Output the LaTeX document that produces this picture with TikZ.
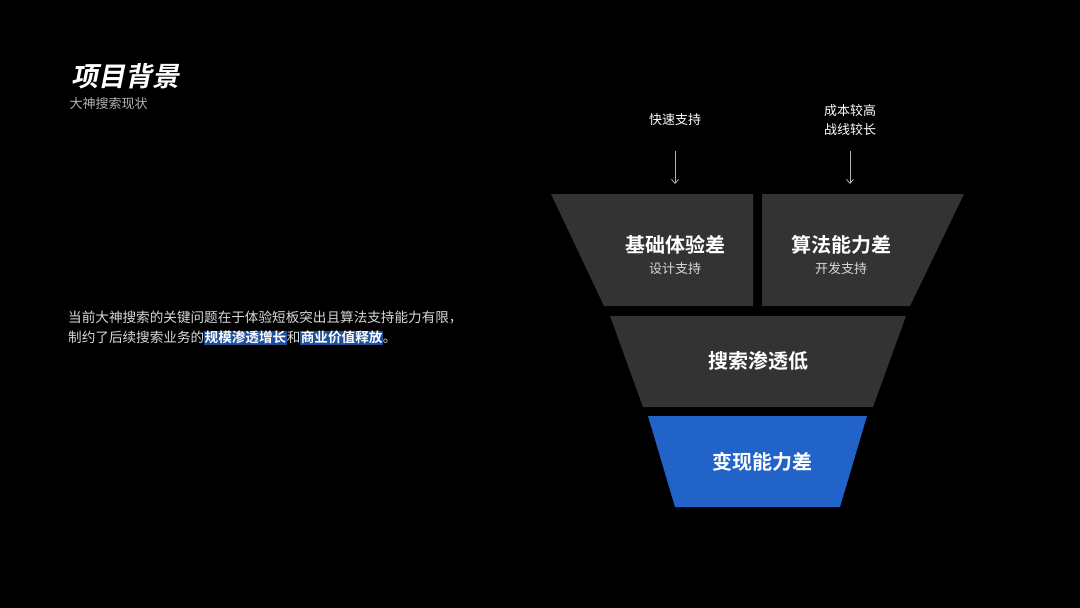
\documentclass[tikz,border=0pt]{standalone}
\usepackage{fontspec}
\setmainfont{Noto Sans CJK SC}[BoldFont={Noto Sans CJK SC Bold}]
\newfontfamily\titlefont{Noto Sans CJK SC Bold}[FakeSlant=0.2]
\usepackage{tikz}
\usetikzlibrary{arrows.meta}
\definecolor{band}{HTML}{333333}
\definecolor{blueband}{HTML}{2163C9}
\definecolor{hl}{HTML}{1F4E9A}
\newcommand{\hlword}[1]{{\setlength{\fboxsep}{0.5pt}\colorbox{hl}{\textcolor{white}{\bfseries #1}}}}
\tikzset{
  bandfill/.style={fill=band, draw=none},
  bigtxt/.style={text=white, font=\bfseries\fontsize{20}{23}\selectfont},
  smalltxt/.style={text=white!85!black, font=\fontsize{13}{15}\selectfont},
  note/.style={text=white, font=\fontsize{13}{19}\selectfont, align=center},
  arrow/.style={draw=white!70!black, line width=0.8pt, -{Straight Barb[length=4pt,width=7pt]}}
}
\begin{document}
\begin{tikzpicture}[x=1pt,y=-1pt]
  \fill[black] (0,0) rectangle (1080,608);
  \useasboundingbox (0,0) rectangle (1080,608);

  % title
  \node (title) [anchor=west, text=white, font=\titlefont\fontsize{27}{30}\selectfont] at (68,76) {项目背景};
  \node (subtitle) [anchor=west, text=white!70!black, font=\fontsize{13}{15}\selectfont] at (66,104) {大神搜索现状};

  % paragraph
  \node (para) [anchor=north west, text=white!85!black, font=\fontsize{13.6}{20}\selectfont, align=left, inner sep=0pt] at (68,311)
    {当前大神搜索的关键问题在于体验短板突出且算法支持能力有限，\\
     制约了后续搜索业务的\hlword{规模渗透增长}和\hlword{商业价值释放}。};

  % funnel
  \fill[bandfill] (551,194) -- (753,194) -- (753,306) -- (604,306) -- cycle;
  \fill[bandfill] (762,194) -- (964,194) -- (910,306) -- (762,306) -- cycle;
  \fill[bandfill] (610,316) -- (906,316) -- (873,407) -- (643,407) -- cycle;
  \fill[blueband] (648,416) -- (867,416) -- (840,507) -- (675,507) -- cycle;

  \node (basic) [bigtxt] at (675,245) {基础体验差};
  \node (basicsub) [smalltxt] at (675,269) {设计支持};
  \node (algo) [bigtxt] at (841,245) {算法能力差};
  \node (algosub) [smalltxt] at (841,269) {开发支持};
  \node (reach) [bigtxt] at (758,361) {搜索渗透低};
  \node (money) [bigtxt] at (762,462) {变现能力差};

  % notes above
  \node (fast) [note] at (675,120) {快速支持};
  \node (cost) [note] at (850,120) {成本较高\\战线较长};
  \coordinate (faststart) at (675,151);
  \coordinate (fastend) at (675,184);
  \coordinate (coststart) at (850,151);
  \coordinate (costend) at (850,184);
  \draw [arrow] (faststart) -- (fastend);
  \draw [arrow] (coststart) -- (costend);
\end{tikzpicture}
\end{document}
